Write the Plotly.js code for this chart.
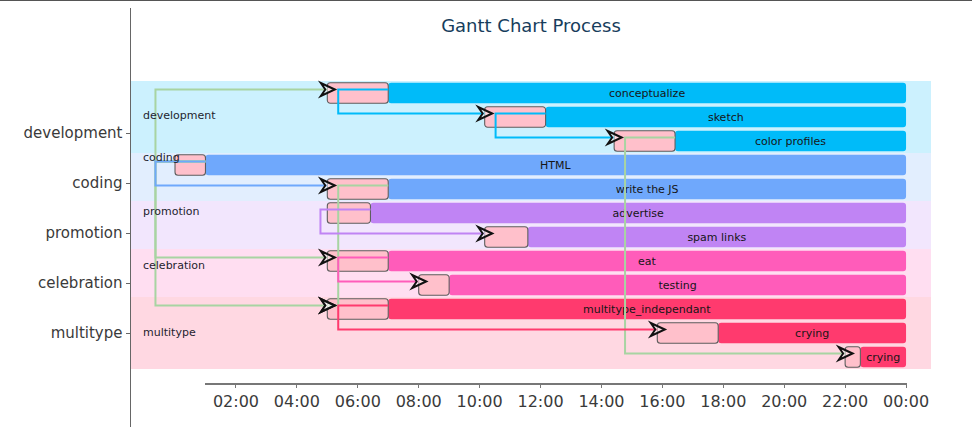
<!DOCTYPE html>
<html><head><meta charset="utf-8">
<script src="https://cdn.plot.ly/plotly-3.0.1.min.js"></script>
<style>html,body{margin:0;padding:0;background:#fff}#chart{width:972px;height:427px}</style>
</head><body><div id="chart"></div>
<script>
// ---------------- data ----------------
const groups      = ['development', 'coding', 'promotion', 'celebration', 'multitype'];
const groupColors = ['#00BBF9', '#6FA8FC', '#C084F4', '#FF5CBA', '#FF3A6E'];
const crossColor  = '#A8D4A2';

const tasks     = ['conceptualize', 'sketch', 'color profiles', 'HTML', 'write the JS', 'advertise', 'spam links', 'eat', 'testing', 'multitype_independant', 'crying', 'crying'];
const taskGroup = ['development', 'development', 'development', 'coding', 'coding', 'promotion', 'promotion', 'celebration', 'celebration', 'multitype', 'multitype', 'multitype'];
const taskStart = ['05:00', '10:10', '14:25', '00:00', '05:00', '05:00', '10:10', '05:00', '08:00', '05:00', '15:50', '22:00'];
const taskEnd   = ['07:00', '12:10', '16:25', '01:00', '07:00', '06:25', '11:35', '07:00', '09:00', '07:00', '17:50', '22:30'];
const dayEnd    = '24:00';

// dependencies (task index -> task index)
const depFrom = [3, 3, 3, 4, 2, 0, 1, 3, 5, 7, 9];
const depTo   = [0, 7, 9, 9, 11, 1, 2, 4, 6, 8, 10];

// ---------------- helpers ----------------
const BASE = Date.UTC(2024, 0, 1);
function hm(s) { const p = s.split(':').map(Number); return p[0] + p[1] / 60; }
function toDate(h) { return new Date(BASE + Math.round(h * 3600000)).toISOString().slice(0, 19).replace('T', ' '); }
function tint(hex, a) {
  const r = parseInt(hex.slice(1, 3), 16), g = parseInt(hex.slice(3, 5), 16), b = parseInt(hex.slice(5, 7), 16);
  return `rgba(${r},${g},${b},${a})`;
}
const FONT = 'DejaVu Sans, Verdana, sans-serif';

// ---------------- geometry (styling) ----------------
const W = 972, H = 427, M = {l: 131, r: 41, t: 8, b: 0};
const plotW = W - M.l - M.r, plotH = H - M.t - M.b;
const PX_PER_H = 30.46, ZERO_PX = 175;
const xStartH = (M.l - ZERO_PX) / PX_PER_H, xEndH = xStartH + plotW / PX_PER_H;
const ROW_PX = 24, ROW0_PX = 93;
const yTop = (M.t - ROW0_PX) / ROW_PX, yBot = (H - M.b - ROW0_PX) / ROW_PX;
const axDom = [(205 - M.l) / plotW, (907 - M.l) / plotW];
const x2Range = [toDate(xStartH + axDom[0] * (xEndH - xStartH)), toDate(xStartH + axDom[1] * (xEndH - xStartH))];
const LINE_OFF = -3.5 / ROW_PX;
const TURN_BACK_H = 50 / PX_PER_H;
const groupLabelShift = [2, 20, 14, 8, 1];

const rows = tasks.map((_, i) => i);
const colorOf = i => groupColors[groups.indexOf(taskGroup[i])];

// ---------------- traces ----------------
const traces = [];
traces.push({
  type: 'bar', orientation: 'h', y: rows,
  base: taskEnd.map(e => toDate(hm(e))),
  x: taskEnd.map(e => (hm(dayEnd) - hm(e)) * 3600000),
  width: 0.86,
  marker: {color: rows.map(colorOf), cornerradius: 3, line: {width: 0}},
  text: tasks, textposition: 'inside', insidetextanchor: 'middle', textangle: 0,
  textfont: {family: FONT, size: 11, color: '#161616'},
  insidetextfont: {family: FONT, size: 11, color: '#161616'},
  hoverinfo: 'skip', showlegend: false
});
traces.push({
  type: 'bar', orientation: 'h', y: rows,
  base: taskStart.map(s => toDate(hm(s))),
  x: taskStart.map((s, i) => (hm(taskEnd[i]) - hm(s)) * 3600000),
  width: 0.86,
  marker: {color: '#FFC0CB', cornerradius: 3, line: {color: '#5e5e5e', width: 1.1}},
  hoverinfo: 'skip', showlegend: false
});

const shapes = [];
groups.forEach((g, gi) => {
  const idx = rows.filter(i => taskGroup[i] === g);
  shapes.push({type: 'rect', xref: 'paper', yref: 'y', x0: 0, x1: 1,
    y0: Math.min(...idx) - 0.5, y1: Math.max(...idx) + 0.5,
    fillcolor: tint(groupColors[gi], 0.2), line: {width: 0}, layer: 'below'});
});

const deps = depFrom.map((s, k) => ({s, d: depTo[k], same: taskGroup[s] === taskGroup[depTo[k]]}));
deps.sort((a, b) => (a.same === b.same) ? 0 : (a.same ? 1 : -1));
deps.forEach(({s, d, same}) => {
  const e = hm(taskEnd[s]), t = e - TURN_BACK_H, st = hm(taskStart[d]);
  traces.push({
    type: 'scatter', mode: 'lines',
    x: [toDate(e), toDate(t), toDate(t), toDate(st)],
    y: [s + LINE_OFF, s + LINE_OFF, d + LINE_OFF, d + LINE_OFF],
    line: {color: same ? colorOf(s) : crossColor, width: 2},
    hoverinfo: 'skip', showlegend: false
  });
  shapes.push({type: 'path', xref: 'x', yref: 'y', xsizemode: 'pixel', ysizemode: 'pixel',
    xanchor: toDate(st), yanchor: d + LINE_OFF,
    path: 'M7.5,0 L-6.5,6.5 L-2,0 L-6.5,-6.5 Z',
    fillcolor: 'rgba(255,255,255,0.45)', line: {color: '#111', width: 2}, layer: 'above'});
});

// dummy traces to register axes
traces.push({type: 'scatter', mode: 'markers', x: groups.map(() => null), y: groups, yaxis: 'y2',
  hoverinfo: 'skip', showlegend: false});
traces.push({type: 'scatter', mode: 'markers', x: [toDate(12)], y: [null], xaxis: 'x2',
  hoverinfo: 'skip', showlegend: false});

// top border line of the picture
shapes.push({type: 'line', xref: 'paper', yref: 'paper', x0: -M.l / plotW, x1: 1 + M.r / plotW,
  y0: 1 + (M.t - 0.5) / plotH, y1: 1 + (M.t - 0.5) / plotH, line: {color: '#555', width: 1}});

const annotations = groups.map((g, gi) => {
  const idx = rows.filter(i => taskGroup[i] === g);
  return {xref: 'paper', yref: 'y', x: 0, xshift: 10, xanchor: 'left',
    y: (Math.min(...idx) + Math.max(...idx)) / 2, yshift: groupLabelShift[gi], yanchor: 'middle',
    text: g, showarrow: false, font: {family: FONT, size: 11, color: '#1e1e2e'}};
});

const layout = {
  width: W, height: H, margin: M,
  paper_bgcolor: '#fff', plot_bgcolor: 'rgba(0,0,0,0)',
  barmode: 'overlay', showlegend: false,
  font: {family: FONT},
  title: {text: 'Gantt Chart Process', font: {family: FONT, size: 18, color: '#173d5c'},
    x: 0.5, xref: 'paper', xanchor: 'center', y: 1 - 26 / H, yref: 'container', yanchor: 'middle'},
  xaxis: {type: 'date', range: [toDate(xStartH), toDate(xEndH)], visible: false, fixedrange: true},
  xaxis2: {type: 'date', domain: axDom, anchor: 'free', position: (H - M.b - 383.7) / plotH,
    range: x2Range, showline: true, linecolor: '#777', linewidth: 2,
    ticks: 'outside', ticklen: 3, tickcolor: '#777', tickformat: '%H:%M',
    dtick: 7200000, tick0: toDate(0), showgrid: false, zeroline: false,
    tickfont: {family: FONT, size: 16, color: '#3a3a3a'}},
  yaxis: {range: [yBot, yTop], visible: false, fixedrange: true},
  yaxis2: {type: 'category', overlaying: 'y', side: 'left', anchor: 'x',
    categoryorder: 'array', categoryarray: groups,
    range: [(H - M.b - 133) / 50, (M.t - 133) / 50],
    showline: true, linecolor: '#666', linewidth: 1.5,
    ticks: 'outside', ticklen: 4, tickcolor: '#666', showgrid: false, zeroline: false,
    tickfont: {family: FONT, size: 15, color: '#3a3a3a'}},
  shapes, annotations
};

Plotly.newPlot('chart', traces, layout, {displayModeBar: false, staticPlot: true});
</script>
</body></html>
